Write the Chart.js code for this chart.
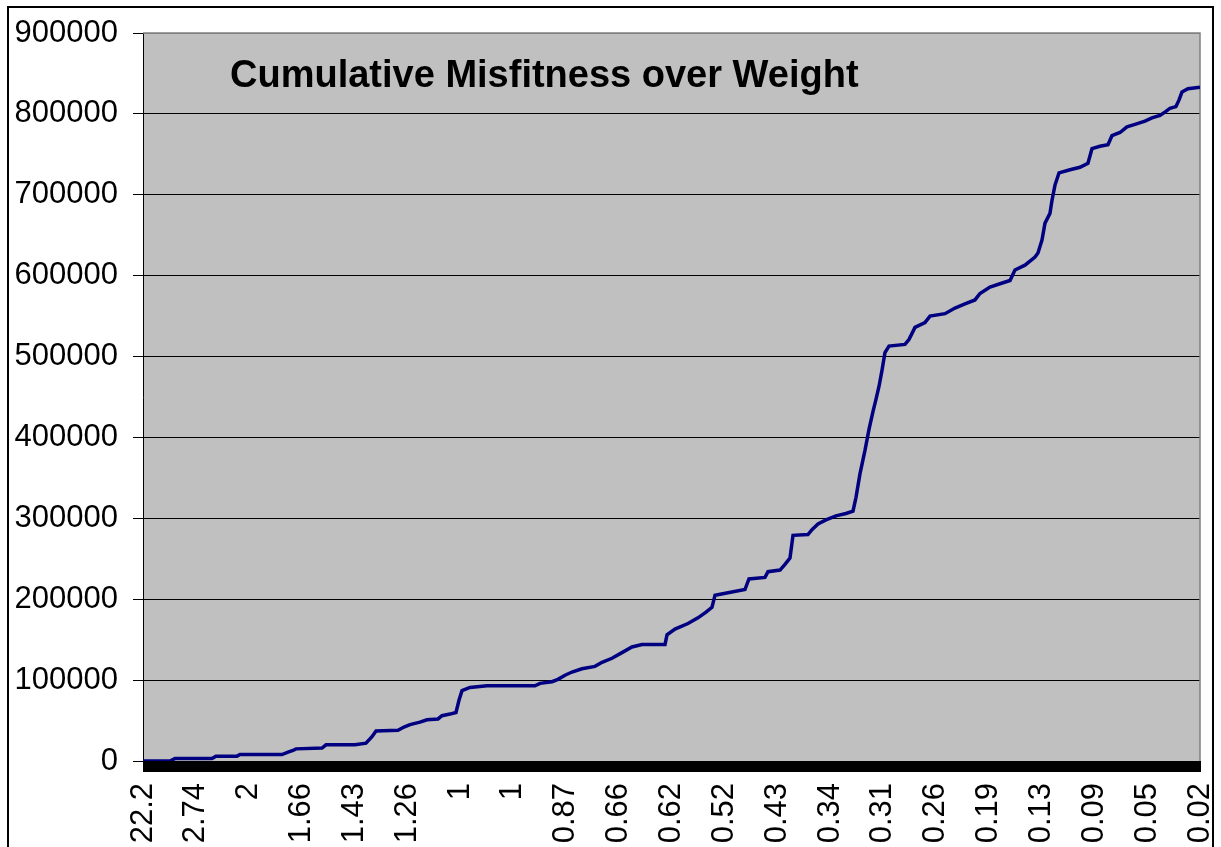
<!DOCTYPE html>
<html><head><meta charset="utf-8">
<script src="https://cdn.jsdelivr.net/npm/chart.js@4.4.0/dist/chart.umd.min.js"></script>
<style>
html,body{margin:0;padding:0;background:#fff;overflow:hidden;}
#wrap{position:relative;width:1221px;height:847px;}
#frame{position:absolute;left:7px;top:6px;width:1203px;height:900px;border:2px solid #000;pointer-events:none;}
canvas{position:absolute;left:0;top:0;}
</style></head><body>
<div id="wrap"><canvas id="c" width="1221" height="847"></canvas><div id="frame"></div></div>
<script>
const chartTitle = 'Cumulative Misfitness over Weight';
const tickLabels = ['22.2','2.74','2','1.66','1.43','1.26','1','1','0.87','0.66','0.62','0.52','0.43','0.34','0.31','0.26','0.19','0.13','0.09','0.05','0.02'];
// position along the category axis, in units of labelled-tick intervals
const position = [0,0.511,0.605,1.306,1.381,1.779,1.835,2.630,2.744,2.838,2.895,3.387,3.463,4.011,4.219,4.333,4.409,4.825,4.938,5.052,5.241,5.374,5.582,5.657,5.809,5.922,5.979,6.036,6.187,6.509,7.417,7.512,7.739,7.852,7.985,8.117,8.306,8.552,8.685,8.874,9.063,9.252,9.442,9.877,9.915,10.066,10.312,10.501,10.653,10.766,10.823,11.069,11.390,11.466,11.769,11.826,12.053,12.147,12.242,12.299,12.582,12.658,12.772,12.923,13.112,13.301,13.434,13.491,13.566,13.661,13.737,13.812,13.869,13.926,13.983,14.039,14.115,14.418,14.493,14.607,14.796,14.891,15.175,15.364,15.553,15.742,15.837,16.026,16.215,16.405,16.499,16.688,16.878,16.934,17.010,17.067,17.161,17.199,17.256,17.332,17.540,17.729,17.880,17.956,18.107,18.259,18.334,18.486,18.618,18.770,18.959,19.091,19.243,19.356,19.432,19.545,19.602,19.659,19.772,20];
const misfit = [0,0,3000,3000,6000,6000,8000,8000,11000,13000,15000,16000,20000,20000,22000,30000,37000,38000,42000,45000,48000,51000,52000,56000,58000,60000,75000,87000,91000,93000,93000,96000,98000,101000,106000,110000,114000,117000,122000,127000,134000,141000,144000,144000,156000,163000,170000,177000,184000,190000,205000,208000,212000,225000,227000,234000,236000,243000,251000,279000,280000,286000,293000,298000,303000,306000,309000,326000,355000,384000,410000,432000,447000,463000,483000,505000,513000,515000,521000,536000,542000,550000,553000,560000,565000,570000,578000,586000,590000,594000,607000,613000,623000,628000,644000,665000,677000,693000,712000,727000,731000,734000,739000,757000,760000,762000,773000,777000,784000,787000,791000,795000,798000,803000,807000,809000,817000,827000,831000,833000];

const FONT = "'Liberation Sans', Arial, sans-serif";

const plotDecor = {
  id: 'plotDecor',
  beforeDraw(chart) {
    const {ctx, chartArea: a} = chart;
    ctx.save();
    ctx.fillStyle = '#C0C0C0';
    ctx.fillRect(a.left, a.top, a.right - a.left, a.bottom - a.top);
    ctx.restore();
  },
  beforeDatasetsDraw(chart) {
    const {ctx, chartArea: a} = chart;
    ctx.save();
    ctx.strokeStyle = '#808080';
    ctx.lineWidth = 1.5;
    ctx.beginPath();
    ctx.moveTo(a.left, a.top);
    ctx.lineTo(a.right, a.top);
    ctx.lineTo(a.right, a.bottom);
    ctx.stroke();
    ctx.restore();
  },
  afterDraw(chart) {
    const {ctx, chartArea: a} = chart;
    ctx.save();
    ctx.fillStyle = '#000';
    ctx.fillRect(a.left, a.bottom, a.right - a.left, 11);
    ctx.font = 'bold 38px ' + FONT;
    ctx.textBaseline = 'alphabetic';
    ctx.textAlign = 'left';
    ctx.fillText(chartTitle, a.left + 87, a.top + 54);
    ctx.restore();
  }
};

new Chart(document.getElementById('c'), {
  type: 'line',
  data: {
    datasets: [{
      data: position.map((p, i) => ({x: p, y: misfit[i]})),
      borderColor: '#000080',
      borderWidth: 3.5,
      pointRadius: 0,
      tension: 0,
      fill: false
    }]
  },
  options: {
    responsive: false,
    animation: false,
    devicePixelRatio: 1,
    layout: {padding: {left: 0, right: 21, top: 33, bottom: 0}},
    plugins: {legend: {display: false}, tooltip: {enabled: false}, title: {display: false}},
    scales: {
      x: {
        type: 'linear',
        min: 0,
        max: tickLabels.length - 1,
        ticks: {
          stepSize: 1,
          autoSkip: false,
          maxRotation: 90,
          minRotation: 90,
          padding: 11,
          color: '#000',
          font: {family: FONT, size: 31},
          callback: v => tickLabels[Math.round(v)]
        },
        grid: {drawOnChartArea: false, tickLength: 11, color: '#000'},
        border: {display: false},
        afterFit(s) { s.height = 86; s.paddingLeft = 0; s.paddingRight = 0; }
      },
      y: {
        min: 0,
        max: 900000,
        ticks: {
          stepSize: 100000,
          padding: 15,
          color: '#000',
          font: {family: FONT, size: 31},
          callback: v => String(v)
        },
        grid: {
          color: ctx => (ctx.tick && ctx.tick.value === 900000) ? '#808080' : '#000',
          tickColor: '#000',
          tickLength: 10,
          lineWidth: 1
        },
        border: {display: true, color: '#000', width: 1},
        afterFit(s) { s.width = 143; s.paddingTop = 0; s.paddingBottom = 0; }
      }
    }
  },
  plugins: [plotDecor]
});
</script>
</body></html>
